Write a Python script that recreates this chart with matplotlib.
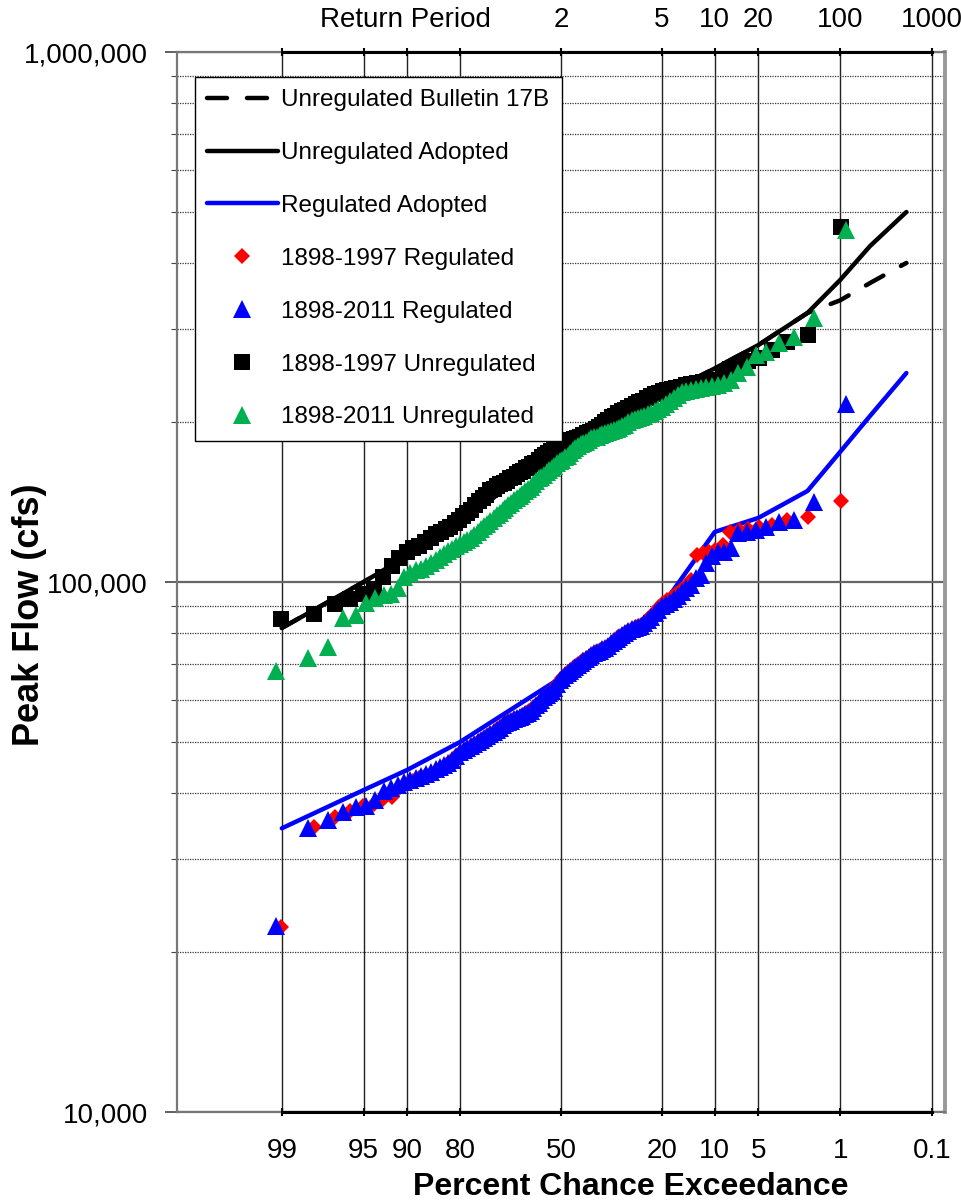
import numpy as np
import matplotlib.pyplot as plt
from matplotlib.ticker import LogLocator, NullFormatter, FuncFormatter
from matplotlib.transforms import blended_transform_factory
from statistics import NormalDist

plt.rcParams['font.family'] = ['Liberation Sans', 'DejaVu Sans']

nd = NormalDist()


def prob_x(p_exceed):
    # exceedance probability -> position on normal probability paper
    return np.array([nd.inv_cdf(1 - p) for p in np.atleast_1d(p_exceed)])


def plot_pos(n):
    # Weibull plotting positions, largest flow first
    return np.arange(1, n + 1) / (n + 1)


# annual peak flows, largest first (cfs)
reg_1997 = [
    142200, 132600, 130900, 128300, 127000, 125800, 125400, 124300, 117600, 115000,
    114000, 113600, 112500, 101000, 98300, 96600, 95000, 93700, 92500, 91300,
    89700, 87800, 86300, 84800, 83300, 82600, 82200, 81600, 80800, 80100,
    79400, 78800, 77800, 76700, 75700, 75100, 74800, 74100, 73800, 73200,
    72500, 71900, 71300, 70300, 69700, 69100, 68200, 67600, 66800, 65900,
    65000, 63900, 63100, 62300, 61500, 60700, 59900, 59100, 58400, 57600,
    57100, 56600, 56100, 55600, 55400, 55100, 54700, 54400, 54000, 53200,
    52800, 52100, 51700, 51000, 50600, 50100, 49500, 49000, 48400, 48000,
    47300, 46700, 45800, 45200, 44600, 43800, 43400, 43100, 42700, 42100,
    41600, 40900, 39300, 38900, 38200, 37800, 37000, 36000, 34500, 22300]

reg_2011 = [
    216700, 141600, 130900, 129800, 127000, 125400, 124500, 123700, 116000, 114000,
    113700, 112000, 108600, 103000, 101700, 98700, 97400, 95700, 94100, 92900,
    91700, 90900, 90100, 88500, 87400, 85900, 84800, 83700, 82600, 82300,
    81900, 81600, 80800, 80100, 79400, 78800, 78100, 77400, 76700, 75700,
    75100, 74800, 74100, 73800, 73500, 72800, 72200, 71600, 71000, 70300,
    69700, 69100, 68500, 67900, 67300, 66800, 65900, 65300, 64200, 63100,
    62300, 61700, 61200, 60700, 59900, 59100, 58600, 57800, 57100, 56600,
    56400, 55900, 55600, 55400, 55100, 54700, 54400, 54200, 53700, 53000,
    52600, 52100, 51700, 51200, 50800, 50300, 49900, 49500, 49000, 48600,
    48200, 47800, 47000, 46100, 45600, 45200, 44800, 44400, 43800, 43400,
    43100, 42700, 42300, 41900, 41400, 40900, 40300, 38800, 37800, 37600,
    36800, 35600, 34300, 22400]

unreg_1997 = [
    468000, 293000, 284000, 274000, 265000, 261000, 257000, 252000, 248000, 240000,
    238000, 238000, 237000, 236000, 235000, 233000, 232000, 231000, 230000, 229000,
    227000, 226000, 224000, 222000, 220000, 219000, 217000, 215000, 213000, 211000,
    210000, 208000, 206000, 205000, 202000, 200000, 198000, 196000, 194000, 193000,
    192000, 191000, 189000, 188000, 187000, 186000, 185000, 184000, 182000, 181000,
    180000, 179000, 178000, 177000, 175000, 174000, 172000, 170000, 168000, 167000,
    165000, 164000, 162000, 161000, 160000, 158000, 157000, 155000, 154000, 153000,
    152000, 150000, 149000, 146000, 144000, 142000, 140000, 137000, 135000, 133000,
    131000, 129000, 127000, 126000, 124000, 123000, 121000, 119000, 117000, 116000,
    114000, 111000, 107000, 102000, 97000, 95000, 93000, 91000, 87000, 85000]

unreg_2011 = [
    461000, 315000, 290000, 282000, 272000, 268000, 254000, 248000, 240000, 237000,
    235000, 234000, 233000, 232000, 231000, 230000, 229000, 228000, 225000, 222000,
    219500, 216800, 214000, 212000, 210000, 208500, 207500, 206000, 204600, 203500,
    203000, 202000, 200000, 198000, 197000, 195000, 194000, 193600, 193000, 192000,
    191000, 190000, 189000, 188000, 187700, 187000, 185000, 184000, 183000, 182000,
    180500, 179000, 177500, 175000, 173000, 172000, 170000, 169000, 167600, 165500,
    164000, 162500, 161000, 159500, 158000, 157000, 155000, 153000, 151000, 150000,
    148500, 146600, 145000, 144000, 142800, 141000, 139500, 137900, 136700, 135000,
    133800, 132000, 130300, 128600, 127500, 125900, 124300, 122700, 121000, 120000,
    119000, 118000, 117000, 115400, 114500, 113000, 111600, 110000, 108700, 107000,
    106000, 105300, 104000, 102000, 97400, 95000, 94600, 93300, 91300, 86600,
    85500, 75400, 71900, 67900]

# frequency curves
curve_p = [0.99, 0.95, 0.9, 0.8, 0.5, 0.2, 0.1, 0.05, 0.02, 0.01, 0.005, 0.002]
unreg_adopted = [81900, 100000, 112000, 128000, 183700, 225000, 253000, 280000,
                 321800, 371400, 430500, 499000]
unreg_17b = [81900, 100000, 112000, 128000, 183700, 225000, 253000, 280000,
             321800, 340000, 366600, 400000]
reg_adopted = [34300, 40500, 44200, 49900, 66000, 90100, 124300, 132100,
               148500, 176000, 205800, 247900]

# axis ticks
pct_ticks = [0.99, 0.95, 0.9, 0.8, 0.5, 0.2, 0.1, 0.05, 0.01, 0.001]
pct_labels = ['99', '95', '90', '80', '50', '20', '10', '5', '1', '0.1']
rp_ticks = [2, 5, 10, 20, 100, 1000]

fig = plt.figure(figsize=(9.61, 12.03), dpi=100)
ax = fig.add_axes([177 / 961, 91 / 1203, 768 / 961, 1060 / 1203])

cx = prob_x(curve_p)
ax.plot(cx, unreg_17b, color='black', lw=3.2, ls=(0, (4.5, 4.5)),
        dash_capstyle='round', label='Unregulated Bulletin 17B', zorder=3)
ax.plot(cx, unreg_adopted, color='black', lw=3.2, solid_capstyle='round',
        label='Unregulated Adopted', zorder=3)
ax.plot(cx, reg_adopted, color='#0000FF', lw=3.2, solid_capstyle='round',
        label='Regulated Adopted', zorder=3)

ax.plot(prob_x(plot_pos(len(reg_1997))), reg_1997, 'D', color='#FF0000', ms=7.7,
        mew=0, ls='none', label='1898-1997 Regulated', zorder=4)
ax.plot(prob_x(plot_pos(len(reg_2011))), reg_2011, '^', color='#0000FF', ms=12.5,
        mew=0, ls='none', label='1898-2011 Regulated', zorder=4)
ax.plot(prob_x(plot_pos(len(unreg_1997))), unreg_1997, 's', color='black', ms=11,
        mew=0, ls='none', label='1898-1997 Unregulated', zorder=4)
ax.plot(prob_x(plot_pos(len(unreg_2011))), unreg_2011, '^', color='#00B050', ms=12.5,
        mew=0, ls='none', label='1898-2011 Unregulated', zorder=4)

ax.set_yscale('log')
ax.set_ylim(1e4, 1e6)
ax.set_xlim(-3.2, 3.2)

ax.yaxis.set_major_locator(LogLocator(base=10))
ax.yaxis.set_minor_locator(LogLocator(base=10, subs=np.arange(2, 10)))
ax.yaxis.set_minor_formatter(NullFormatter())
ax.yaxis.set_major_formatter(FuncFormatter(lambda v, _: f'{v:,.0f}'))

ax.set_xticks(prob_x(pct_ticks))
ax.set_xticklabels(pct_labels)

ax.tick_params(axis='y', which='major', labelsize=20, length=9, width=1.2,
               pad=12, color='#444')
ax.tick_params(axis='y', which='minor', length=4, width=0.8, color='#444')
ax.tick_params(axis='x', which='major', labelsize=20, length=6, width=1.5,
               direction='inout', pad=16, top=True, color='black')

ax.grid(True, axis='x', color='#222', lw=1.0)
ax.grid(True, axis='y', which='major', color='#666', lw=1.6)
ax.grid(True, axis='y', which='minor', color='#333', lw=0.9, ls=(0, (1, 1)))
ax.set_axisbelow(True)

for side in ['left', 'bottom', 'top']:
    ax.spines[side].set_color('#777')
    ax.spines[side].set_linewidth(1.6)
ax.spines['right'].set_color('#999')
ax.spines['right'].set_linewidth(2.8)

# darker axis line between the labelled percentages
x_lo, x_hi = prob_x([0.99, 0.001])
for yv in (1e4, 1e6):
    ax.plot([x_lo, x_hi], [yv, yv], color='black', lw=2.2, clip_on=False,
            zorder=5)

# return period labels along the top
top = blended_transform_factory(ax.transData, fig.transFigure)
for t in rp_ticks:
    ax.text(prob_x([1 / t])[0], 1 - 20 / 1203, str(t), transform=top,
            ha='center', va='center', fontsize=20)
ax.text(-1.3, 1 - 20 / 1203, 'Return Period', transform=top,
        ha='center', va='center', fontsize=20)

fig.text(30 / 961, 1 - 615 / 1203, 'Peak Flow (cfs)', rotation=90,
         ha='center', va='center', fontsize=26, fontweight='bold')
fig.text(631 / 961, 1 - 1187 / 1203, 'Percent Chance Exceedance',
         ha='center', va='center', fontsize=23, fontweight='bold')

leg = ax.legend(loc='upper left', bbox_to_anchor=(18 / 768, 1 - 25 / 1060),
                borderaxespad=0, fontsize=17.5, frameon=True, fancybox=False,
                edgecolor='black', framealpha=1, numpoints=1,
                handlelength=2.9, handletextpad=0.15, labelspacing=1.27,
                borderpad=0.5)
leg.get_frame().set_linewidth(1.0)
leg.set_zorder(6)

fig.savefig('out.png', dpi=100)
